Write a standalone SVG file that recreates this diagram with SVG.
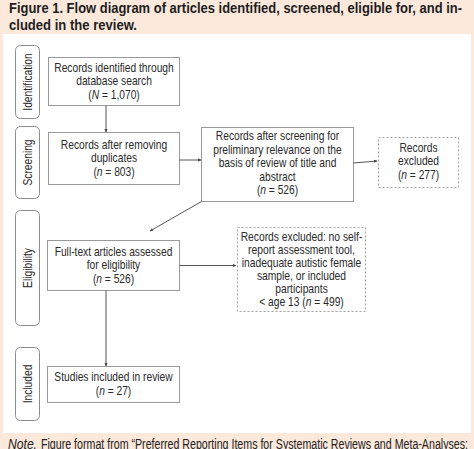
<svg xmlns="http://www.w3.org/2000/svg" width="474" height="449" viewBox="0 0 474 449">
<defs>
<style>
.t{font-family:"Liberation Sans",Arial,sans-serif;font-size:12.8px;fill:#2a2a2a;text-anchor:middle}
.t2{font-family:"Liberation Sans",Arial,sans-serif;font-size:12.4px;fill:#2a2a2a;text-anchor:middle}
.ttl{font-family:"Liberation Sans",Arial,sans-serif;font-size:15.5px;font-weight:bold;fill:#1e1e1e}
.note{font-family:"Liberation Sans",Arial,sans-serif;font-size:14px;fill:#222}
.lab{fill:#fff;stroke:#8c8c8c;stroke-width:1}
.box{fill:#fff;stroke:#9a9a9a;stroke-width:1}
.dbox{fill:#fff;stroke:#a0a0a0;stroke-width:1;stroke-dasharray:2,2}
.c{stroke:#555;stroke-width:1;fill:none;marker-end:url(#ah)}
</style>
<marker id="ah" markerWidth="4" markerHeight="4" refX="3" refY="2" orient="auto" markerUnits="userSpaceOnUse">
<path d="M0,0.5 L3.5,2 L0,3.5 Z" fill="#444"/>
</marker>
</defs>
<rect x="0" y="0" width="474" height="449" fill="#fce9dc"/>
<text class="ttl" x="9" y="13" textLength="453" lengthAdjust="spacingAndGlyphs">Figure 1. Flow diagram of articles identified, screened, eligible for, and in-</text>
<text class="ttl" x="9" y="29.5" textLength="128" lengthAdjust="spacingAndGlyphs">cluded in the review.</text>
<rect x="3" y="34" width="468" height="399" fill="#fff"/>
<g id="label-identification"><rect class="lab" x="15.5" y="45.5" width="24" height="73" rx="5"/><text class="t" transform="translate(32,82) rotate(-90) scale(0.8,1)">Identification</text></g>
<g id="label-screening"><rect class="lab" x="15.5" y="126.5" width="24" height="72" rx="5"/><text class="t" transform="translate(32,162.5) rotate(-90) scale(0.8,1)">Screening</text></g>
<g id="label-eligibility"><rect class="lab" x="15.5" y="210.5" width="24" height="115" rx="5"/><text class="t" transform="translate(32,268) rotate(-90) scale(0.8,1)">Eligibility</text></g>
<g id="label-included"><rect class="lab" x="15.5" y="347.5" width="24" height="73" rx="5"/><text class="t" transform="translate(32,384) rotate(-90) scale(0.8,1)">Included</text></g>
<g id="identified"><rect class="box" x="48.5" y="57.5" width="131" height="48"/>
<g transform="translate(114,0) scale(0.8,1)"><text class="t" x="0" y="72">Records identified through</text><text class="t" x="0" y="85.5">database search</text><text class="t" x="0" y="99">(<tspan font-style="italic">N</tspan> = 1,070)</text></g></g>
<g id="duplicates"><rect class="box" x="48.5" y="132.5" width="131" height="52"/>
<g transform="translate(114,0) scale(0.8,1)"><text class="t" x="0" y="149">Records after removing</text><text class="t" x="0" y="162.5">duplicates</text><text class="t" x="0" y="176">(<tspan font-style="italic">n</tspan> = 803)</text></g></g>
<g id="screened"><rect class="box" x="201.5" y="127.5" width="152" height="74"/>
<g transform="translate(277.5,0) scale(0.8,1)"><text class="t" x="0" y="140.5">Records after screening for</text><text class="t" x="0" y="154">preliminary relevance on the</text><text class="t" x="0" y="167.5">basis of  review of title and</text><text class="t" x="0" y="181">abstract</text><text class="t" x="0" y="194.5">(<tspan font-style="italic">n</tspan> = 526)</text></g></g>
<g id="excluded1"><rect class="dbox" x="378.5" y="137.5" width="80" height="50"/>
<g transform="translate(418.5,0) scale(0.8,1)"><text class="t" x="0" y="152">Records</text><text class="t" x="0" y="165.5">excluded</text><text class="t" x="0" y="179">(<tspan font-style="italic">n</tspan> = 277)</text></g></g>
<g id="fulltext"><rect class="box" x="47.5" y="240.5" width="132" height="50"/>
<g transform="translate(113.5,0) scale(0.8,1)"><text class="t" x="0" y="256">Full-text articles assessed</text><text class="t" x="0" y="269.5">for eligibility</text><text class="t" x="0" y="283">(<tspan font-style="italic">n</tspan> = 526)</text></g></g>
<g id="excluded2"><rect class="dbox" x="237.5" y="227.5" width="128" height="84"/>
<g transform="translate(301.5,0) scale(0.83,1)"><text class="t2" x="0" y="241">Records excluded: no self-</text><text class="t2" x="0" y="254">report assessment tool,</text><text class="t2" x="0" y="267">inadequate autistic female</text><text class="t2" x="0" y="280">sample, or included</text><text class="t2" x="0" y="293">participants</text><text class="t2" x="0" y="306">&lt; age 13 (<tspan font-style="italic">n</tspan> = 499)</text></g></g>
<g id="included"><rect class="box" x="47.5" y="366.5" width="132" height="36"/>
<g transform="translate(113.5,0) scale(0.8,1)"><text class="t" x="0" y="381">Studies included in review</text><text class="t" x="0" y="395">(<tspan font-style="italic">n</tspan> = 27)</text></g></g>
<g id="connectors">
<line class="c" x1="106" y1="105.5" x2="106" y2="132"/>
<line class="c" x1="179.5" y1="160" x2="201" y2="160"/>
<line class="c" x1="353.5" y1="163" x2="377" y2="161"/>
<line class="c" x1="201.5" y1="201.5" x2="150" y2="231"/>
<line class="c" x1="179.5" y1="265.5" x2="236" y2="265.5"/>
<line class="c" x1="106" y1="290.5" x2="106" y2="366"/>
</g>
<text class="note" x="8" y="449" font-style="italic" textLength="29" lengthAdjust="spacingAndGlyphs">Note.</text>
<text class="note" x="41" y="449" textLength="427" lengthAdjust="spacingAndGlyphs">Figure format from “Preferred Reporting Items for Systematic Reviews and Meta-Analyses:</text>
</svg>
